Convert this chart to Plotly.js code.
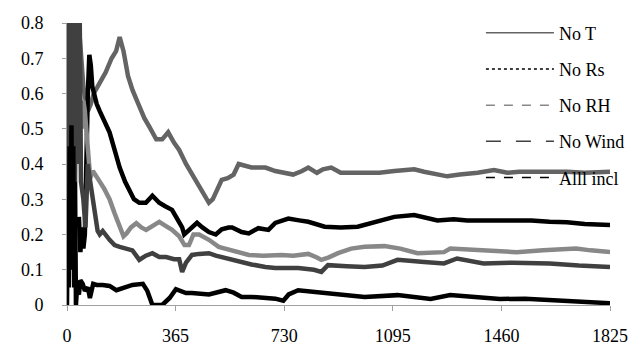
<!DOCTYPE html>
<html>
<head>
<meta charset="utf-8">
<script src="https://cdn.plot.ly/plotly-3.0.1.min.js"></script>
<style>
html,body{margin:0;padding:0;background:#fff;}
#chart{width:642px;height:347px;}
#chart svg text{font-family:'Liberation Serif','DejaVu Serif','Times New Roman',serif !important;}
</style>
</head>
<body>
<div id="chart"></div>
<script>
// Days since start
var noT_x = [35,45,55,63,70,80,90,110,130,150,165,177,190,205,220,240,260,277,300,320,340,360,377,400,420,443,460,477,490,505,520,540,560,577,600,620,643,667,700,733,760,790,811,840,860,888,920,960,1000,1050,1100,1167,1200,1245,1278,1320,1380,1435,1480,1520,1568,1620,1680,1740,1780,1825];
var noT_y = [0.85,0.75,0.62,0.58,0.55,0.57,0.6,0.63,0.66,0.7,0.72,0.76,0.72,0.65,0.61,0.57,0.53,0.505,0.47,0.47,0.49,0.46,0.44,0.4,0.37,0.335,0.31,0.29,0.3,0.33,0.355,0.36,0.37,0.4,0.395,0.39,0.39,0.39,0.38,0.375,0.37,0.38,0.39,0.375,0.385,0.39,0.375,0.375,0.375,0.375,0.38,0.385,0.378,0.37,0.365,0.37,0.375,0.383,0.375,0.378,0.378,0.38,0.378,0.375,0.375,0.378];

var noRs_x = [40,45,50,55,60,65,70,75,80,85,90,100,110,125,143,160,177,195,210,225,243,265,287,300,310,330,353,370,387,394,400,420,437,455,477,500,520,543,555,587,611,643,677,700,744,780,811,866,920,977,1020,1055,1100,1167,1200,1245,1300,1345,1420,1511,1560,1622,1680,1740,1790,1825];
var noRs_y = [0.25,0.15,0.22,0.16,0.2,0.45,0.6,0.71,0.68,0.62,0.6,0.57,0.55,0.52,0.49,0.44,0.39,0.35,0.325,0.3,0.29,0.29,0.31,0.3,0.29,0.28,0.27,0.245,0.22,0.2,0.205,0.22,0.233,0.22,0.207,0.2,0.215,0.22,0.22,0.207,0.203,0.218,0.213,0.233,0.245,0.24,0.236,0.222,0.22,0.222,0.232,0.24,0.25,0.255,0.25,0.24,0.243,0.24,0.24,0.24,0.24,0.236,0.235,0.23,0.228,0.227];

var noRH_x = [50,55,60,65,70,78,87,100,110,125,143,160,177,190,200,215,233,250,266,290,310,330,353,377,395,410,425,444,477,510,550,611,660,721,760,811,840,855,880,911,955,1000,1067,1120,1178,1230,1267,1288,1350,1420,1511,1600,1711,1760,1825];
var noRH_y = [0.5,0.58,0.55,0.5,0.45,0.36,0.38,0.36,0.35,0.33,0.3,0.26,0.22,0.195,0.203,0.22,0.232,0.22,0.213,0.225,0.236,0.225,0.213,0.195,0.17,0.17,0.2,0.2,0.185,0.165,0.155,0.142,0.14,0.142,0.14,0.145,0.135,0.128,0.135,0.147,0.16,0.165,0.167,0.16,0.147,0.148,0.15,0.16,0.158,0.155,0.15,0.155,0.16,0.155,0.15];

var noWind_x = [0,4,8,12,17,22,27,32,37,42,47,55,62,70,78,86,93,103,110,120,143,160,177,200,220,243,265,287,310,333,360,377,387,400,420,444,477,500,555,587,620,667,700,777,830,855,877,940,1000,1060,1111,1200,1267,1311,1400,1500,1622,1720,1825];
var noWind_y = [0.2,0.9,0.25,0.9,0.3,0.9,0.35,0.9,0.4,0.9,0.35,0.3,0.22,0.4,0.35,0.3,0.26,0.21,0.2,0.21,0.185,0.17,0.165,0.16,0.155,0.128,0.14,0.147,0.136,0.136,0.13,0.13,0.094,0.12,0.142,0.145,0.147,0.14,0.128,0.122,0.115,0.108,0.105,0.105,0.1,0.094,0.113,0.11,0.108,0.112,0.128,0.122,0.118,0.132,0.118,0.12,0.118,0.112,0.108];

var allIncl_x = [0,3,6,9,12,15,18,21,24,27,30,33,40,45,53,60,70,77,88,100,120,143,166,190,220,255,270,287,320,345,366,400,420,477,533,560,587,622,660,700,727,745,777,820,888,940,1000,1111,1222,1288,1370,1455,1540,1622,1720,1790,1825];
var allIncl_y = [0.0,0.3,0.05,0.45,0.1,0.51,0.15,0.45,0.05,0.35,0.0,0.04,0.03,0.07,0.06,0.04,0.05,0.02,0.06,0.057,0.057,0.054,0.042,0.05,0.057,0.06,0.04,0.0,0.0,0.02,0.045,0.034,0.034,0.03,0.042,0.035,0.023,0.023,0.02,0.018,0.012,0.03,0.042,0.038,0.034,0.026,0.023,0.028,0.017,0.028,0.022,0.017,0.018,0.014,0.012,0.008,0.005];

var seriesNames = ['No T','No Rs','No RH','No Wind','Alll incl'];
var xTickVals = [0,365,730,1095,1460,1825];
var xTickText = ['0','365','730','1095','1460','1825'];

var colors = ['#646464','#000000','#888888','#404040','#000000'];
var legendDash = ['solid','dot','dash','longdash','dash'];
var xs = [noT_x, noRs_x, noRH_x, noWind_x, allIncl_x];
var ys = [noT_y, noRs_y, noRH_y, noWind_y, allIncl_y];

var traces = [];
for (var i = 0; i < 5; i++) {
  traces.push({x: xs[i], y: ys[i], type: 'scatter', mode: 'lines',
    line: {color: colors[i], width: 4.5}, showlegend: false, hoverinfo: 'skip'});
}
for (var j = 0; j < 5; j++) {
  traces.push({x: [null], y: [null], type: 'scatter', mode: 'lines', name: seriesNames[j],
    legendgroup: 'g' + j,
    line: {color: colors[j], width: 1.5, dash: legendDash[j]}});
}

var fam = 'Liberation Serif, DejaVu Serif, serif';
var tickFont = {family: fam, size: 18, color: '#000'};
var legFont = {family: fam, size: 18, color: '#000'};
var layout = {
  width: 642, height: 347,
  margin: {l: 67, r: 28, t: 23, b: 42},
  paper_bgcolor: '#fff', plot_bgcolor: '#fff',
  font: tickFont,
  showlegend: true,
  legend: {x: 0.7623, y: 1.03, xanchor: 'left', yanchor: 'top', bgcolor: 'rgba(0,0,0,0)',
    font: legFont, itemwidth: 68, tracegroupgap: 9.8, traceorder: 'grouped'},
  xaxis: {range: [0, 1825], tickvals: xTickVals, ticktext: xTickText, showgrid: false, zeroline: false,
    showline: true, linecolor: '#a0a0a0', linewidth: 1, ticks: 'outside', ticklen: 5, tickcolor: '#a0a0a0',
    ticklabelstandoff: 9, tickfont: tickFont},
  yaxis: {range: [0, 0.8], dtick: 0.1, tick0: 0, showgrid: false, zeroline: false,
    showline: true, linecolor: '#a0a0a0', linewidth: 1, ticks: 'outside', ticklen: 4, tickcolor: '#a0a0a0',
    ticklabelstandoff: 15, tickfont: tickFont}
};
Plotly.newPlot('chart', traces, layout, {displayModeBar: false, staticPlot: true});
</script>
</body>
</html>
